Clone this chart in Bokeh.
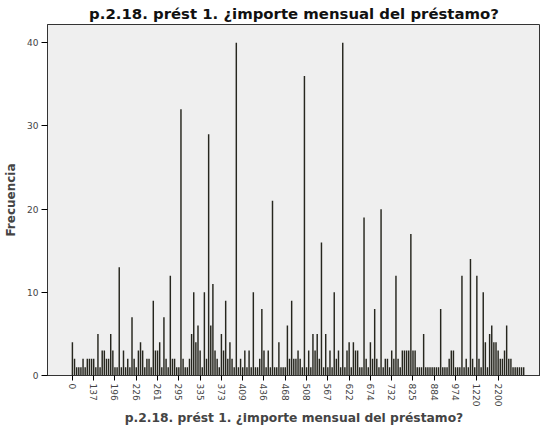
import math
from bokeh.plotting import figure
from bokeh.models import Range1d, FixedTicker
from bokeh.embed import file_html
from bokeh.resources import INLINE

title_text = "p.2.18. prést 1. ¿importe mensual del préstamo?"

# labelled categories (every 10th category)
tick_labels = ["0", "137", "196", "226", "261", "295", "335", "373", "409", "436",
               "468", "508", "567", "622", "674", "732", "825", "884", "974", "1220", "2200"]

# frequency of each category, left to right
counts = [
    4, 2, 1, 1, 1, 2, 1, 2, 2, 2,
    2, 1, 5, 1, 3, 3, 2, 2, 5, 3,
    1, 1, 13, 1, 3, 1, 2, 1, 7, 2,
    1, 3, 4, 3, 1, 2, 2, 1, 9, 3,
    3, 4, 1, 7, 2, 1, 12, 2, 2, 1,
    1, 32, 2, 1, 1, 2, 5, 10, 4, 6,
    3, 1, 10, 2, 29, 6, 11, 3, 2, 1,
    5, 3, 9, 2, 4, 2, 1, 40, 1, 2,
    1, 3, 1, 3, 1, 10, 1, 1, 2, 8,
    3, 1, 3, 1, 21, 1, 1, 4, 1, 1,
    1, 6, 2, 9, 2, 2, 3, 2, 1, 36,
    1, 3, 1, 5, 3, 5, 2, 16, 1, 5,
    1, 3, 1, 10, 2, 3, 1, 40, 1, 3,
    4, 1, 4, 3, 3, 1, 1, 19, 2, 1,
    4, 2, 8, 2, 1, 20, 1, 2, 2, 1,
    3, 2, 12, 2, 1, 3, 3, 3, 3, 17,
    3, 3, 1, 1, 1, 5, 1, 1, 1, 1,
    1, 1, 1, 8, 1, 1, 1, 2, 3, 3,
    1, 1, 1, 12, 1, 2, 1, 14, 2, 1,
    12, 2, 1, 10, 4, 1, 5, 6, 4, 4,
    3, 2, 2, 3, 6, 2, 2, 1, 1, 1,
    1, 1, 1,
]

xs = list(range(len(counts)))
tick_pos = [i * 10 for i in range(len(tick_labels))]

p = figure(width=540, height=428, output_backend="svg", toolbar_location=None,
           x_range=Range1d(-11.7, 219.9), y_range=Range1d(0, 42.2),
           min_border_left=47, min_border_right=0, min_border_top=0, min_border_bottom=0)

p.title.text = title_text
p.title.text_font = "DejaVu Sans"
p.title.text_font_size = "14.9px"
p.title.text_font_style = "bold"
p.title.align = "center"
p.title.text_color = "#111111"
p.title.standoff = 4

p.background_fill_color = "#efefef"
p.border_fill_color = "white"
p.outline_line_color = "#333333"
p.outline_line_width = 1
p.xgrid.visible = False
p.ygrid.visible = False

p.vbar(x=xs, top=counts, width=0.68, fill_color="#26261e", line_color=None)

p.yaxis.ticker = FixedTicker(ticks=[0, 10, 20, 30, 40])
p.yaxis.axis_label = "Frecuencia"
p.yaxis.axis_label_text_font = "DejaVu Sans"
p.yaxis.axis_label_text_font_size = "12px"
p.yaxis.axis_label_text_font_style = "bold"
p.yaxis.axis_label_standoff = 6
p.yaxis.major_label_text_font = "DejaVu Sans"
p.yaxis.major_label_text_font_size = "9px"
p.yaxis.major_label_standoff = 3
p.yaxis.major_tick_out = 6
p.yaxis.major_tick_in = 0
p.yaxis.minor_tick_line_color = None
p.yaxis.axis_line_color = "#333333"

p.xaxis.ticker = FixedTicker(ticks=tick_pos)
p.xaxis.major_label_overrides = {tp: lab for tp, lab in zip(tick_pos, tick_labels)}
p.xaxis.major_label_orientation = -math.pi / 2
p.xaxis.axis_label = title_text
p.xaxis.axis_label_text_font = "DejaVu Sans"
p.xaxis.axis_label_text_font_size = "12.3px"
p.xaxis.axis_label_text_font_style = "bold"
p.xaxis.axis_label_standoff = 2
p.xaxis.major_label_text_font = "DejaVu Sans"
p.xaxis.major_label_text_font_size = "9px"
p.xaxis.major_label_standoff = 3
p.xaxis.major_tick_out = 5
p.xaxis.major_tick_in = 0
p.xaxis.minor_tick_line_color = None
p.xaxis.axis_line_color = "#333333"

open("out.html", "w").write(file_html(p, INLINE))
